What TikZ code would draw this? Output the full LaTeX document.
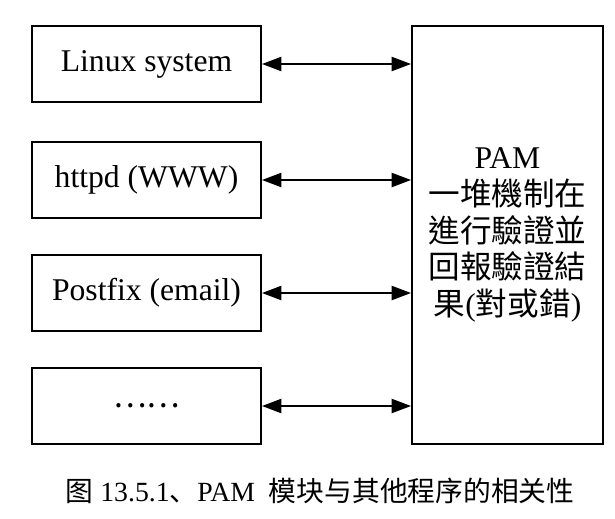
\documentclass[tikz,border=0pt]{standalone}
\usepackage{fontspec}
\setmainfont{Liberation Serif}
\newfontfamily\cjktc{Noto Sans CJK TC}
\newfontfamily\cjksc{Noto Sans CJK SC}
\usetikzlibrary{arrows.meta}

\begin{document}
\begin{tikzpicture}
						\tikzstyle{box} = [rectangle,fill=white,draw=black,line width=1.1pt,font=\fontsize{18}{21}\selectfont]
						\tikzstyle{link} = [{Triangle[length=11pt,width=8pt]}-{Triangle[length=11pt,width=8pt]},line width=1.1pt]
						\useasboundingbox (0,0) rectangle (12.3,-10.36);
						\node[box,minimum width=4.58cm,minimum height=1.52cm] (p1) at (2.93,-1.28) {Linux system};
						\node[box,minimum width=4.58cm,minimum height=1.52cm] (p2) at (2.93,-3.6) {httpd (WWW)};
						\node[box,minimum width=4.58cm,minimum height=1.52cm] (p3) at (2.93,-5.86) {Postfix (email)};
						\node[box,minimum width=4.58cm,minimum height=1.52cm] (p4) at (2.93,-8.12) {{\cjktc ……}};
						\node[box,minimum width=3.82cm,minimum height=8.36cm,align=center] (pam) at (10.15,-4.70) {PAM\\{\cjktc 一堆機制在}\\{\cjktc 進行驗證並}\\{\cjktc 回報驗證結}\\{\cjktc 果}({\cjktc 對或錯})};
						\node[font=\fontsize{15.8}{18}\selectfont] (caption) at (6.4,-9.82) {{\cjksc 图} 13.5.1{\cjksc 、}PAM\ \ {\cjksc 模块与其他程序的相关性}};
						
						\draw[link] (p1.east)--(p1.east-|pam.west);
						\draw[link] (p2.east)--(p2.east-|pam.west);
						\draw[link] (p3.east)--(p3.east-|pam.west);
						\draw[link] (p4.east)--(p4.east-|pam.west);
						
						\end{tikzpicture}
\end{document}
